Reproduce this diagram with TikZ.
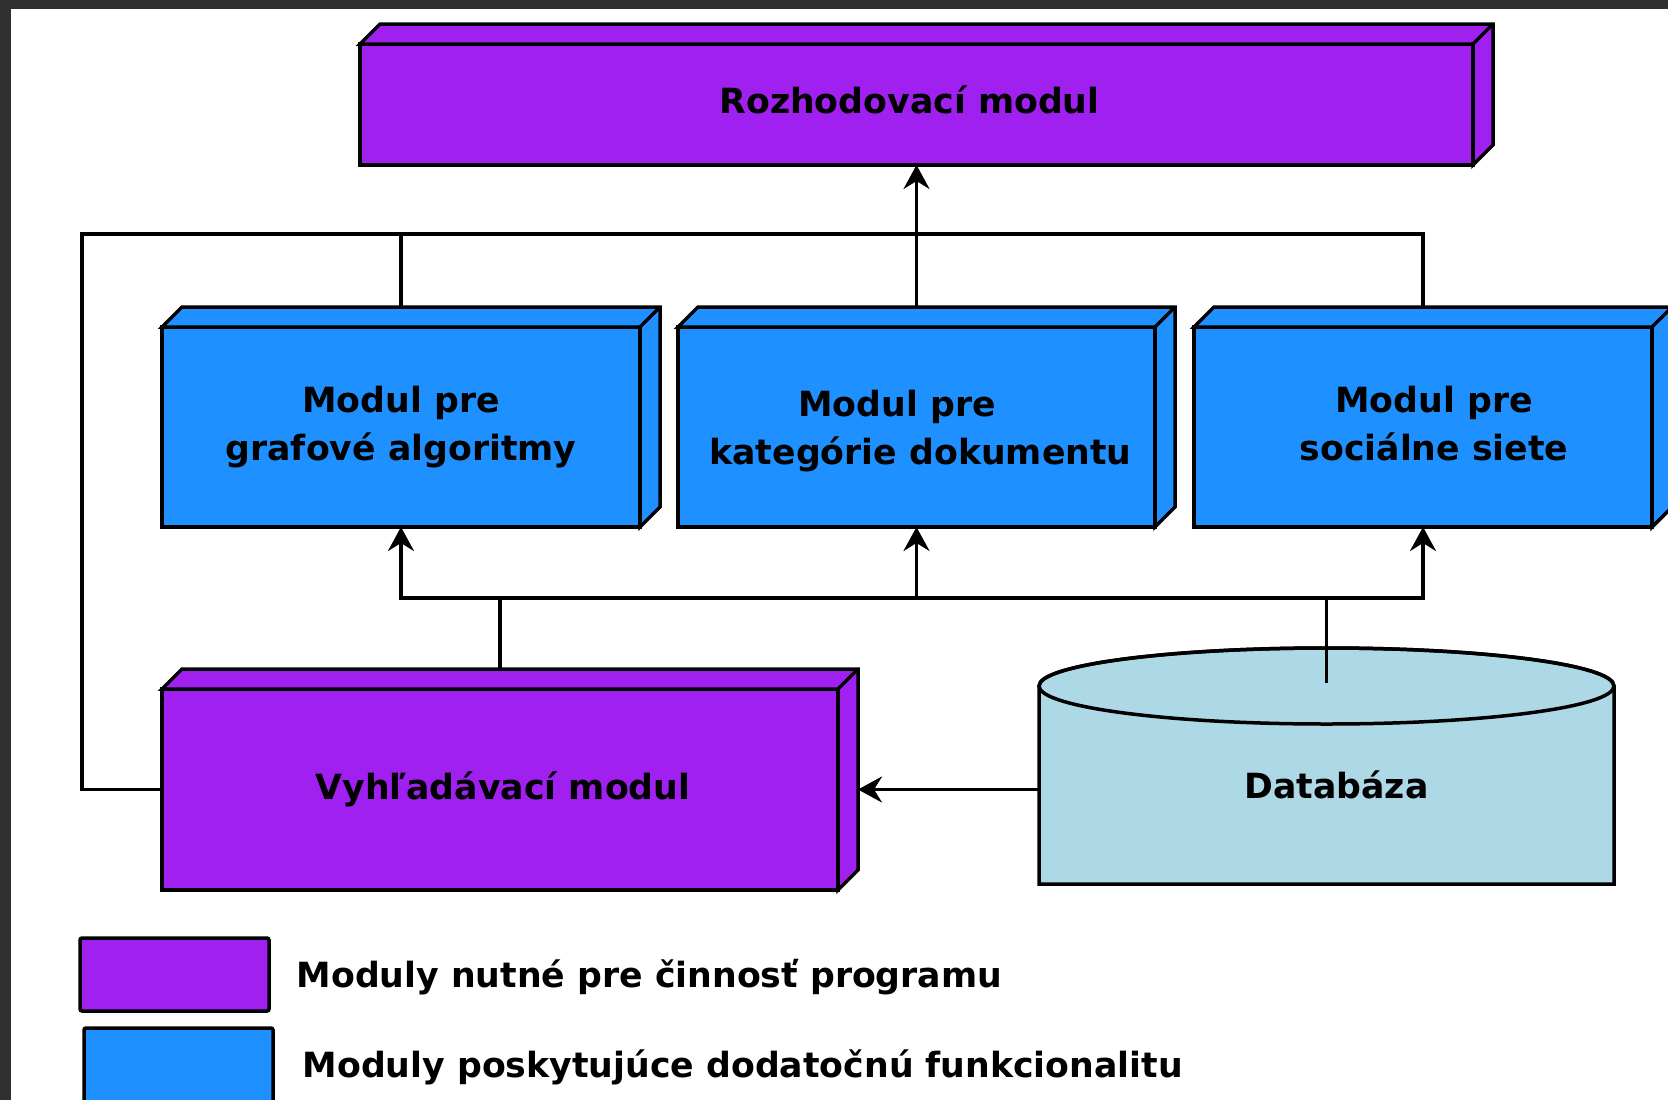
\documentclass[tikz,border=0pt]{standalone}
\usepackage{fontspec}
\setmainfont{DejaVu Sans}
\usetikzlibrary{arrows.meta}
\definecolor{purp}{HTML}{A020F0}
\definecolor{dblue}{HTML}{1E90FF}
\definecolor{lblue}{HTML}{ADD8E6}
\definecolor{frame}{HTML}{303030}
\begin{document}
\begin{tikzpicture}[x=1pt,y=-1pt, line width=3.5pt,
  every node/.style={font=\fontsize{34.7}{48}\selectfont\bfseries},
  box/.style={draw, fill=#1, inner sep=0pt, outer sep=0pt, anchor=north west},
  txt/.style={inner sep=0pt, align=center},
  conn/.style={line width=3.5pt, line cap=rect},
  arr/.style={line width=3.5pt, -{Stealth[length=24pt,width=26pt,inset=8pt]}},
  legbox/.style={draw, fill=#1, inner sep=0pt, outer sep=0pt, anchor=north west, rounded corners=2pt},
  legtext/.style={anchor=west, inner sep=0pt}
]
\fill[frame] (0,0) rectangle (1668,1100);
\fill[white] (11,9) rectangle (1668,1100);
\useasboundingbox (0,0) rectangle (1668,1100);

% modules
\node[box=purp, minimum width=1113pt, minimum height=121pt] (rozh) at (360,44) {};
\node[box=dblue, minimum width=478pt, minimum height=200pt] (graf) at (162,327) {};
\node[box=dblue, minimum width=477pt, minimum height=200pt] (kat) at (678,327) {};
\node[box=dblue, minimum width=458pt, minimum height=200pt] (soc) at (1194,327) {};
\node[box=purp, minimum width=676pt, minimum height=201pt] (vyh) at (162,689) {};

% 3D faces
\foreach \n/\c in {rozh/purp, graf/dblue, kat/dblue, soc/dblue, vyh/purp}{
  \draw[fill=\c] (\n.north west) -- ++(20pt,20pt) -| ([shift={(20pt,20pt)}]\n.south east) -- (\n.south east) -- (\n.north east) -- cycle;
  \draw (\n.north east) -- ++(20pt,20pt);
}

% labels
\node[txt] (rozht) at ([shift={(-7pt,5pt)}]rozh.center) {Rozhodovací modul};
\node[txt] (graft) at (graf.center) {Modul pre\\grafové algoritmy};
\node[txt] (katt) at ([shift={(4pt,-4pt)}]kat.center) {Modul pre\hspace*{47pt}\\kategórie dokumentu};
\node[txt] (soct) at ([shift={(11pt,3pt)}]soc.center) {Modul pre\\sociálne siete};
\node[txt] (vyht) at ([shift={(3pt,0pt)}]vyh.center) {Vyhľadávací modul};

% database cylinder
\draw[fill=lblue] (1039,686) -- (1039,884) -- (1614,884) -- (1614,686) arc[start angle=0, end angle=180, x radius=287.5pt, y radius=38pt] -- cycle;
\draw (1326.5,686) ellipse [x radius=287.5pt, y radius=38pt];
\node[inner sep=0pt, outer sep=0pt, minimum width=575pt, minimum height=198pt, anchor=north west] (db) at (1039,686) {};
\node[txt] (dbt) at ([shift={(10pt,0pt)}]db.center) {Databáza};

% connectors
\coordinate (lt) at (82,234);
\coordinate (bus) at (0,598);
\draw[arr] ([yshift=20pt]kat.north) -- (rozh.south);
\draw[conn] (vyh.west) -| (lt) -| ([yshift=20pt]soc.north);
\draw[conn] (graf.north |- lt) -- ([yshift=20pt]graf.north);
\draw[conn] (graf.south |- bus) -- (soc.south |- bus);
\draw[conn] ([yshift=20pt]vyh.north) -- (vyh.north |- bus);
\draw[conn] ([yshift=5pt]db.north) -- (db.north |- bus);
\draw[arr] (graf.south |- bus) -- (graf.south);
\draw[arr] (kat.south |- bus) -- (kat.south);
\draw[arr] (soc.south |- bus) -- (soc.south);
\draw[arr] (vyh.east -| db.west) -- ([xshift=20pt]vyh.east);

% legend
\node[legbox=purp, minimum width=189pt, minimum height=73pt] (lg1) at (80,938) {};
\node[legbox=dblue, minimum width=189pt, minimum height=82pt] (lg2) at (84,1028) {};
\node[legtext] (lt1) at (295,977) {Moduly nutné pre činnosť programu};
\node[legtext] (lt2) at (301,1067) {Moduly poskytujúce dodatočnú funkcionalitu};
\end{tikzpicture}
\end{document}
